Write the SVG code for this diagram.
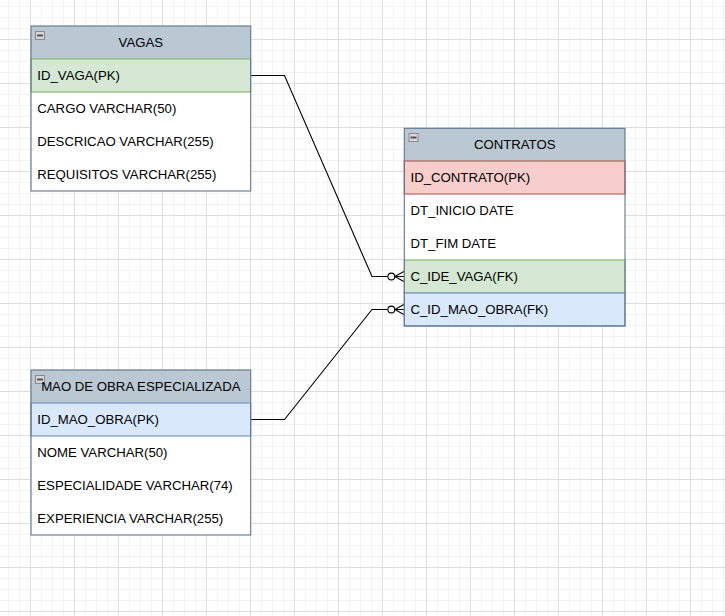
<svg xmlns="http://www.w3.org/2000/svg" width="725" height="616" viewBox="0 0 725 616">
  <defs>
    <pattern id="grid" patternUnits="userSpaceOnUse" x="30" y="-5" width="44" height="44">
      <path d="M11.5 0V44M22.5 0V44M33.5 0V44M0 11.5H44M0 22.5H44M0 33.5H44" stroke="#f3f3f3" stroke-width="1" fill="none"/>
      <path d="M0.5 0V44M0 0.5H44" stroke="#dedede" stroke-width="1" fill="none"/>
    </pattern>
    <g id="collapse">
      <rect x="0.5" y="0.5" width="9" height="8" fill="#d9d9d9" stroke="#8a8a8a" stroke-width="1"/>
      <rect x="2" y="3.5" width="6" height="2" fill="#555"/>
    </g>
  </defs>
  <style>
    text { font-family: "Liberation Sans", Arial, sans-serif; font-size: 13.2px; fill: #000; }
    .head { text-anchor: middle; }
    .box { fill: #ffffff; }
    .hdr { fill: #bac8d3; }
    .frame { fill: none; stroke: #5f768a; stroke-width: 1.1; }
    .pk-green { fill: #d5e8d4; stroke: #82b366; stroke-width: 1.1; }
    .pk-red { fill: #f8cecc; stroke: #b85450; stroke-width: 1.1; }
    .pk-blue { fill: #dae8fc; stroke: #6c8ebf; stroke-width: 1.1; }
    .link { fill: none; stroke: #000; stroke-width: 1.1; }
    .end { fill: #fff; stroke: #000; stroke-width: 1.1; }
  </style>

  <rect width="725" height="616" fill="#ffffff"/>
  <rect width="725" height="616" fill="url(#grid)"/>

  <!-- relationship lines -->
  <g id="connectors">
    <path class="link" d="M250.7 75.5H284.5L372 276.5H387.7"/>
    <path class="link" d="M394.8 276.5L404.3 271.3M396 276.5H404.3M394.8 276.5L404.3 281.7"/>
    <circle class="end" cx="391.3" cy="276.5" r="3.4"/>

    <path class="link" d="M250.7 419.5H284.5L372 309.5H387.7"/>
    <path class="link" d="M394.8 309.5L404.3 304.3M396 309.5H404.3M394.8 309.5L404.3 314.7"/>
    <circle class="end" cx="391.3" cy="309.5" r="3.4"/>
  </g>

  <!-- VAGAS table -->
  <g id="vagas">
    <rect class="box" x="31" y="26" width="219.7" height="165"/>
    <rect class="hdr" x="31" y="26" width="219.7" height="33"/>
    <rect class="pk-green" x="31" y="59" width="219.7" height="33"/>
    <rect class="frame" x="31" y="26" width="219.7" height="165"/>
    <use href="#collapse" x="35" y="31"/>
    <text class="head" x="140.8" y="47">VAGAS</text>
    <text x="37.3" y="80.2">ID_VAGA(PK)</text>
    <text x="37.3" y="113.2">CARGO VARCHAR(50)</text>
    <text x="37.3" y="146.2">DESCRICAO VARCHAR(255)</text>
    <text x="37.3" y="179.2">REQUISITOS VARCHAR(255)</text>
  </g>

  <!-- CONTRATOS table -->
  <g id="contratos">
    <rect class="box" x="404.3" y="128.3" width="220.7" height="197.7"/>
    <rect class="hdr" x="404.3" y="128.3" width="220.7" height="32.7"/>
    <rect class="pk-red" x="404.3" y="161" width="220.7" height="33"/>
    <rect class="pk-green" x="404.3" y="260" width="220.7" height="33"/>
    <rect class="pk-blue" x="404.3" y="293" width="220.7" height="33"/>
    <rect class="frame" x="404.3" y="128.3" width="220.7" height="197.7"/>
    <use href="#collapse" x="408.5" y="133"/>
    <text class="head" x="514.7" y="149.3">CONTRATOS</text>
    <text x="410.5" y="182.2">ID_CONTRATO(PK)</text>
    <text x="410.5" y="215.2">DT_INICIO DATE</text>
    <text x="410.5" y="248.2">DT_FIM DATE</text>
    <text x="410.5" y="281.2">C_IDE_VAGA(FK)</text>
    <text x="410.5" y="314.2">C_ID_MAO_OBRA(FK)</text>
  </g>

  <!-- MAO DE OBRA ESPECIALIZADA table -->
  <g id="mao-de-obra">
    <rect class="box" x="31" y="370" width="219.7" height="165"/>
    <rect class="hdr" x="31" y="370" width="219.7" height="33"/>
    <rect class="pk-blue" x="31" y="403" width="219.7" height="33"/>
    <rect class="frame" x="31" y="370" width="219.7" height="165"/>
    <use href="#collapse" x="35" y="375"/>
    <text class="head" x="140.8" y="391">MAO DE OBRA ESPECIALIZADA</text>
    <text x="37.3" y="424.2">ID_MAO_OBRA(PK)</text>
    <text x="37.3" y="457.2">NOME VARCHAR(50)</text>
    <text x="37.3" y="490.2">ESPECIALIDADE VARCHAR(74)</text>
    <text x="37.3" y="523.2">EXPERIENCIA VARCHAR(255)</text>
  </g>
</svg>
